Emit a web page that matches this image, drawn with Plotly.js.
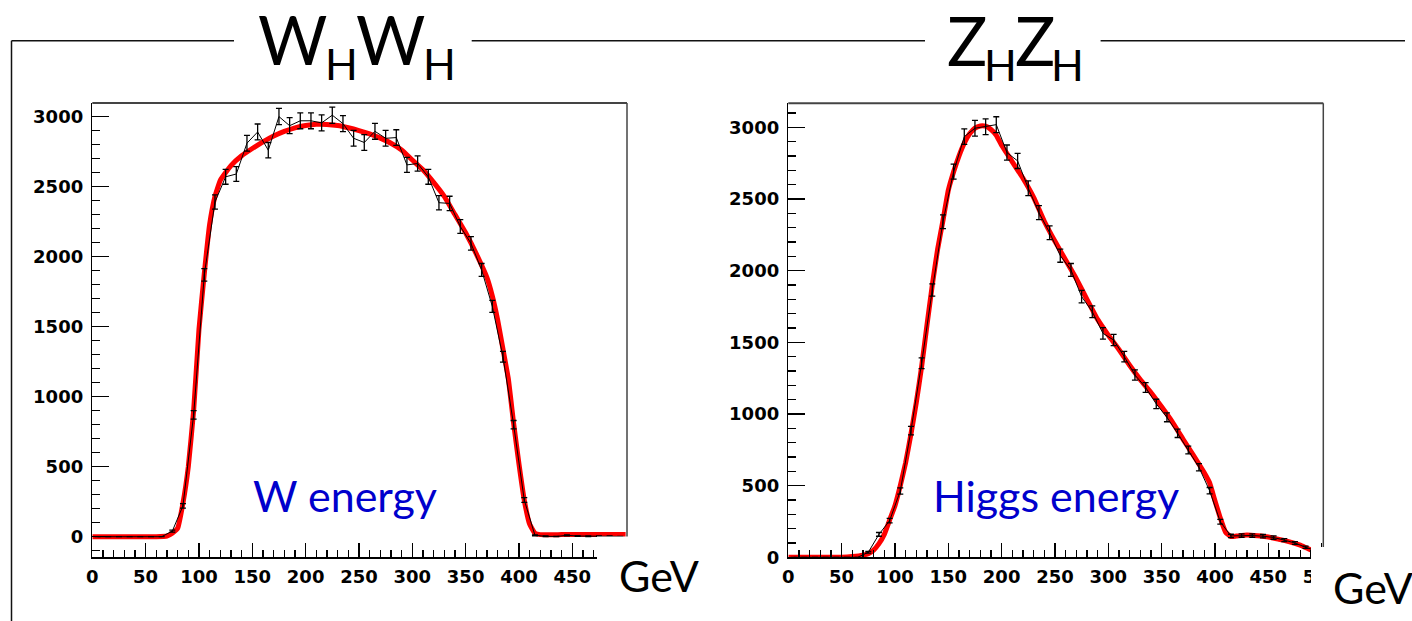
<!DOCTYPE html>
<html>
<head>
<meta charset="utf-8">
<script src="https://cdn.plot.ly/plotly-3.0.1.min.js"></script>
<style>html,body{margin:0;padding:0;background:#fff;}#chart{width:1412px;height:621px;}</style>
</head>
<body>
<div id="chart"></div>
<script>
// ---- W energy (W_H W_H) ----
const wBins = [5,15,25,35,45,55,65,75,85,95,105,115,125,135,145,155,165,175,185,195,205,215,225,235,245,255,265,275,285,295,305,315,325,335,345,355,365,375,385,395,405,415,425,435,445,455,465,475,485,495];
const wCounts = [0,0,0,0,0,0,0,40,220,870,1870,2390,2570,2590,2810,2890,2760,3000,2935,2970,2970,2955,3010,2950,2845,2815,2895,2845,2850,2655,2665,2570,2385,2380,2215,2095,1905,1645,1285,800,262,10,3,2,10,5,3,4,3,2];
const wErrors = [0,0,0,0,0,0,0,7,16,31,45,51,53,53,56,57,55,58,57,57,57,57,58,57,56,56,57,56,56,54,54,53,51,51,49,48,46,43,38,30,17,3,2,1,3,2,2,2,2,1];
const wFitX = [0,60,70,75,80,85,90,95,100,105,110,115,120,130,140,150,160,170,180,190,200,210,220,230,240,250,260,270,280,290,300,310,320,330,340,350,360,370,375,380,385,390,395,400,405,410,415,420,440,460,480,500];
const wFitY = [0,0,5,25,60,240,500,900,1480,1880,2230,2430,2545,2650,2720,2772,2820,2862,2895,2920,2936,2945,2944,2936,2920,2900,2876,2846,2810,2762,2690,2620,2530,2430,2300,2170,2020,1850,1720,1550,1340,1130,810,520,260,90,25,15,15,15,15,15];

// ---- Higgs energy (Z_H Z_H) ----
const hBins = [5,15,25,35,45,55,65,75,85,95,105,115,125,135,145,155,165,175,185,195,205,215,225,235,245,255,265,275,285,295,305,315,325,335,345,355,365,375,385,395,405,415,425,435,445,455,465,475,485,495];
const hCounts = [0,0,0,0,0,0,0,35,160,256,463,884,1354,1865,2342,2691,2935,2994,3005,3019,2824,2766,2575,2405,2265,2105,2005,1819,1714,1563,1516,1400,1272,1185,1070,977,865,749,628,465,248,149,152,152,147,138,120,100,70,45];
const hErrors = [0,0,0,0,0,0,0,6,13,16,22,30,37,43,48,52,54,55,55,55,53,53,51,49,48,46,45,43,41,40,39,37,36,34,33,31,29,27,25,22,16,12,12,12,12,12,11,10,8,7];
const hFitX = [0,50,60,70,75,80,85,90,95,100,105,110,115,120,125,130,135,140,145,150,155,160,165,170,175,180,185,190,195,200,210,220,230,240,250,260,270,280,290,300,310,320,330,340,350,360,370,380,390,395,400,405,410,415,420,430,440,450,460,470,480,490,500];
const hFitY = [0,0,5,15,25,50,95,160,260,360,500,660,860,1080,1330,1620,1900,2150,2350,2560,2690,2800,2890,2955,2995,3010,3008,2985,2945,2875,2760,2645,2512,2345,2205,2075,1945,1800,1660,1550,1450,1340,1240,1150,1050,945,825,710,590,520,395,275,175,145,148,155,150,142,125,108,85,52,35];

// tick labels
const xTicksLeft = [0,50,100,150,200,250,300,350,400,450];
const xTickTextLeft = ['0','50','100','150','200','250','300','350','400','450'];
const xTicksRight = [0,50,100,150,200,250,300,350,400,450,500];
const xTickTextRight = ['0','50','100','150','200','250','300','350','400','450','500'];
const yTicks = [0,500,1000,1500,2000,2500,3000];
const yTickText = ['0','500','1000','1500','2000','2500','3000'];

const W = 1412, H = 621;
const px = v => v / W;
const py = v => 1 - v / H;

const fitLine = {color:'#ff0000', width:5, shape:'spline', smoothing:0.35};
const dataLine = {color:'#000000', width:1};
const errStyle = arr => ({type:'data', array:arr, visible:true, color:'#000000', thickness:1.3, width:3});

const traces = [
  {x:wFitX, y:wFitY, type:'scatter', mode:'lines', line:fitLine, xaxis:'x', yaxis:'y', hoverinfo:'skip'},
  {x:wBins, y:wCounts, type:'scatter', mode:'lines', line:dataLine, error_y:errStyle(wErrors), xaxis:'x', yaxis:'y'},
  {x:hFitX, y:hFitY, type:'scatter', mode:'lines', line:fitLine, xaxis:'x2', yaxis:'y2', hoverinfo:'skip'},
  {x:hBins, y:hCounts, type:'scatter', mode:'lines', line:dataLine, error_y:errStyle(hErrors), xaxis:'x2', yaxis:'y2'}
];

const tickFont = {family:'DejaVu Sans', size:18, weight:'bold', color:'#000000'};
function xAx(dom, range, anchor, vals, text) {
  return {domain:dom, range:range, anchor:anchor, showline:true, linecolor:'#000', linewidth:1.5,
    ticks:'inside', ticklen:14, tickwidth:1.3, tickcolor:'#000',
    tickmode:'array', tickvals:vals, ticktext:text,
    minor:{dtick:10, tick0:0, ticks:'inside', ticklen:7, tickwidth:1.3, tickcolor:'#000'},
    showgrid:false, zeroline:false, tickfont:tickFont, ticklabelstandoff:3, fixedrange:true};
}
function yAx(dom, range, anchor) {
  return {domain:dom, range:range, anchor:anchor, showline:true, linecolor:'#000', linewidth:1.5,
    ticks:'inside', ticklen:17, tickwidth:1.3, tickcolor:'#000',
    tickmode:'array', tickvals:yTicks, ticktext:yTickText,
    minor:{dtick:100, tick0:0, ticks:'inside', ticklen:8, tickwidth:1.3, tickcolor:'#000'},
    showgrid:false, zeroline:false, tickfont:tickFont, ticklabelstandoff:4, fixedrange:true};
}

const lineShape = (x0,y0,x1,y1,color,width) => ({type:'line', xref:'paper', yref:'paper', x0:px(x0), y0:py(y0), x1:px(x1), y1:py(y1), line:{color:color, width:width}, layer:'above'});
const rectShape = (x0,y0,x1,y1) => ({type:'rect', xref:'paper', yref:'paper', x0:px(x0), y0:py(y0), x1:px(x1), y1:py(y1), fillcolor:'#ffffff', line:{width:0}, layer:'above'});

const shapes = [
  // frames
  lineShape(92.3,103,627,103,'#444',2),
  lineShape(627,103,627,557,'#444',1.5),
  lineShape(788.3,103.3,1323.3,103.3,'#444',2),
  lineShape(1323.3,103.3,1323.3,557,'#444',1.5),
  // cropped corners
  rectShape(597,536.5,730,621),
  rectShape(1311,547,1412,621),
  // page lines
  lineShape(11.5,40.7,234,40.7,'#111',1.5),
  lineShape(471.7,40.7,925,40.7,'#111',1.5),
  lineShape(1100.6,40.7,1405,40.7,'#111',1.5),
  lineShape(11.5,40.7,11.5,621,'#111',1.5)
];

const ann = (text,x,y,size,color) => ({text:text, xref:'paper', yref:'paper', x:px(x), y:py(y), xanchor:'left', yanchor:'middle', showarrow:false, font:{family:'Lato', size:size, color:color}, borderpad:0});
const annotations = [
  ann('W',257,38.5,67,'#000'), ann('H',324,63.5,43,'#000'),
  ann('W',355,38.5,67,'#000'), ann('H',422,63.5,43,'#000'),
  ann('Z',946,39.5,67,'#000'), ann('H',983,64.5,43,'#000'),
  ann('Z',1014,39.5,67,'#000'), ann('H',1050,64.5,43,'#000'),
  ann('W energy',252,495.5,43,'#0000cc'),
  ann('Higgs energy',932,495,43,'#0000cc'),
  ann('GeV',618,575.5,43,'#000'),
  ann('GeV',1332,587.5,43,'#000')
];

const layout = {
  width:W, height:H, margin:{l:0,r:0,t:0,b:0}, paper_bgcolor:'#ffffff', plot_bgcolor:'#ffffff', showlegend:false,
  xaxis: xAx([px(92.3), px(627)], [0,501.3], 'y', xTicksLeft, xTickTextLeft),
  yaxis: yAx([py(557.3), py(103)], [-147,3097], 'x'),
  xaxis2: xAx([px(788.3), px(1323.3)], [0,501.6], 'y2', xTicksRight, xTickTextRight),
  yaxis2: yAx([py(557.3), py(103.3)], [0,3168], 'x2'),
  shapes:shapes, annotations:annotations
};

Plotly.newPlot('chart', traces, layout, {displayModeBar:false, staticPlot:true});
</script>
</body>
</html>
